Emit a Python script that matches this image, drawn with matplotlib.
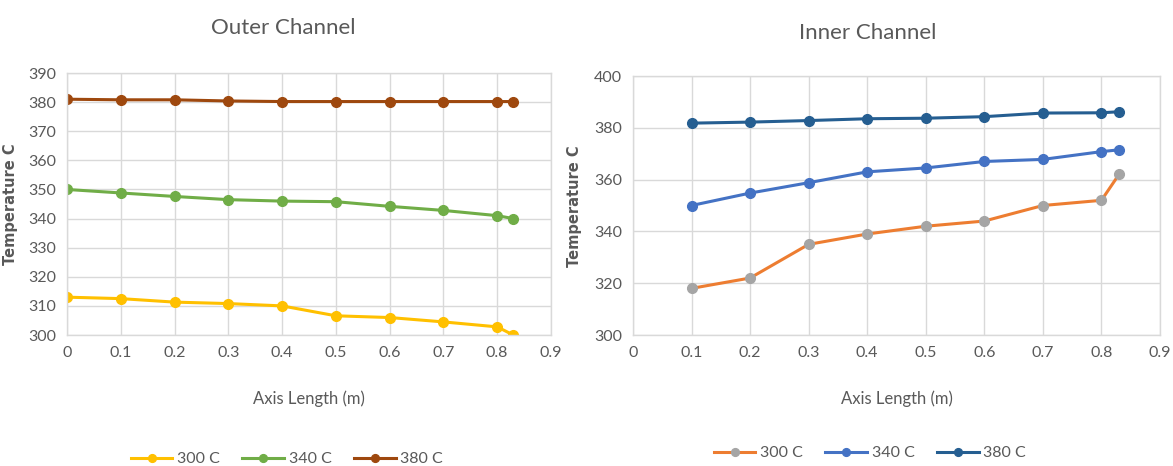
import matplotlib
matplotlib.use("Agg")
import matplotlib.pyplot as plt

outer_x = [0, 0.1, 0.2, 0.3, 0.4, 0.5, 0.6, 0.7, 0.8, 0.83]
outer_300 = [313, 312.5, 311.3, 310.8, 310, 306.6, 306, 304.5, 302.8, 300]
outer_340 = [350, 348.8, 347.6, 346.5, 346, 345.8, 344.2, 342.8, 341, 340]
outer_380 = [381, 380.8, 380.8, 380.4, 380.2, 380.2, 380.2, 380.2, 380.2, 380.2]

inner_x = [0.1, 0.2, 0.3, 0.4, 0.5, 0.6, 0.7, 0.8, 0.83]
inner_300 = [318, 322, 335, 339, 342, 344, 350, 352, 362]
inner_340 = [350, 354.8, 358.8, 363, 364.5, 367, 367.8, 370.8, 371.5]
inner_380 = [381.8, 382.2, 382.8, 383.5, 383.7, 384.3, 385.7, 385.8, 386.2]

labels = ["300 C", "340 C", "380 C"]
x_ticks = [0, 0.1, 0.2, 0.3, 0.4, 0.5, 0.6, 0.7, 0.8, 0.9]
x_tick_labels = ["0", "0.1", "0.2", "0.3", "0.4", "0.5", "0.6", "0.7", "0.8", "0.9"]

NARROW = ["Lato", "DejaVu Sans"]
GREY = "#595959"
GRID = "#D9D9D9"

fig = plt.figure(figsize=(11.73, 4.66), dpi=100)
ax1 = fig.add_axes([0.0571, 0.2811, 0.4126, 0.5622])
ax2 = fig.add_axes([0.5396, 0.2811, 0.4493, 0.5558])


def style(ax, ylim, yticks, ylab_x):
    ax.set_xlim(0, 0.9)
    ax.set_ylim(*ylim)
    ax.set_xticks(x_ticks)
    ax.set_xticklabels(x_tick_labels)
    ax.set_yticks(yticks)
    ax.grid(True, color=GRID, linewidth=1)
    ax.set_axisbelow(True)
    for s in ax.spines.values():
        s.set_color(GRID)
        s.set_linewidth(1)
    ax.tick_params(length=0, pad=8, labelcolor=GREY, labelsize=11.5)
    for t in ax.get_xticklabels() + ax.get_yticklabels():
        t.set_fontfamily(NARROW)
    ax.set_xlabel("Axis Length (m)", family=NARROW, fontsize=12, color=GREY, labelpad=22)
    ax.set_ylabel("Temperature C", family="DejaVu Sans", fontsize=10.5, color=GREY,
                  fontweight="bold")
    ax.yaxis.set_label_coords(ylab_x, 0.5, transform=fig.transFigure)


kw = dict(linewidth=2.2, marker="o", markersize=7)

# Outer
oc = ["#FFC000", "#70AD47", "#9E480E"]
for ys, c, lab in zip([outer_300, outer_340, outer_380], oc, labels):
    ax1.plot(outer_x, ys, color=c, markerfacecolor=c, markeredgecolor=c, label=lab, **kw)
style(ax1, (300, 390), list(range(300, 391, 10)), 18 / 1173)
ax1.yaxis.label.set_y(1 - 204 / 466)
fig.text(283 / 1173, 1 - 28 / 466, "Outer Channel", family=NARROW, fontsize=16,
         color=GREY, ha="center", va="center")

# Inner
ilc = ["#ED7D31", "#4472C4", "#255E91"]
imc = ["#A5A5A5", "#4472C4", "#255E91"]
for ys, c, mc, lab in zip([inner_300, inner_340, inner_380], ilc, imc, labels):
    ax2.plot(inner_x, ys, color=c, markerfacecolor=mc, markeredgecolor=mc, label=lab, **kw)
style(ax2, (300, 400), list(range(300, 401, 20)), 582 / 1173)
ax2.yaxis.label.set_y(1 - 206 / 466)
fig.text(868 / 1173, 1 - 33 / 466, "Inner Channel", family=NARROW, fontsize=16,
         color=GREY, ha="center", va="center")

for ax, yl, cx in [(ax1, 459, 287), (ax2, 453, 870)]:
    leg = fig.legend(handles=ax.get_lines(), labels=labels, loc="center",
                     bbox_to_anchor=(cx / 1173, 1 - yl / 466), ncol=3, frameon=False,
                     prop={"family": NARROW, "size": 11.5}, handlelength=2.6,
                     columnspacing=1.4, handletextpad=0.3, markerscale=0.8)
    for t in leg.get_texts():
        t.set_color(GREY)

fig.savefig("out.png", dpi=100)
